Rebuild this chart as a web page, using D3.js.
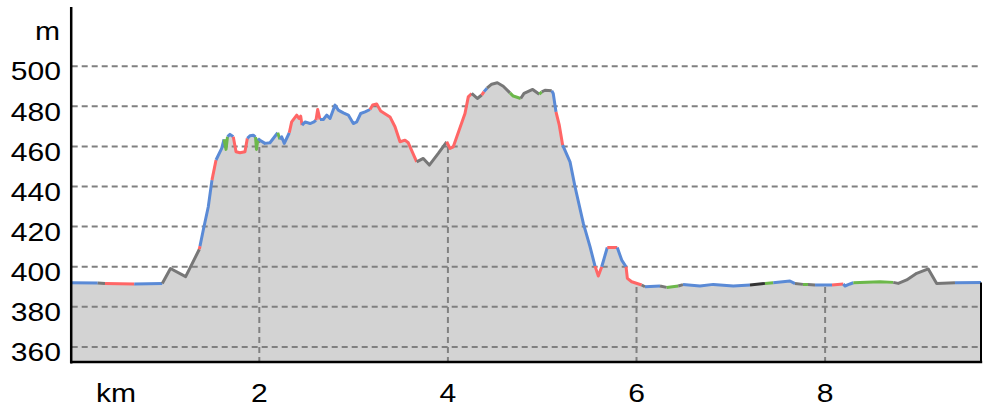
<!DOCTYPE html>
<html><head><meta charset="utf-8">
<script src="https://cdn.jsdelivr.net/npm/d3@7"></script>
<style>html,body{margin:0;padding:0;background:#fff;} svg{display:block;}</style>
</head><body>
<svg id="chart" width="990" height="406"></svg>
<script>
// Distance along route (km)
const distKm = [0,0.286,0.364,0.674,0.971,1.058,1.219,1.364,1.371,1.406,1.459,1.498,1.541,1.601,1.626,1.647,1.663,1.689,1.724,1.753,1.795,1.848,1.873,1.901,1.936,1.960,1.970,1.986,2.007,2.060,2.113,2.195,2.219,2.237,2.265,2.318,2.343,2.397,2.421,2.439,2.453,2.485,2.538,2.580,2.601,2.619,2.644,2.679,2.715,2.750,2.803,2.838,2.891,2.944,2.997,3.033,3.075,3.121,3.174,3.202,3.245,3.287,3.386,3.439,3.492,3.545,3.580,3.669,3.739,3.803,3.898,3.987,4.022,4.057,4.181,4.216,4.252,4.312,4.358,4.383,4.414,4.464,4.524,4.587,4.658,4.693,4.772,4.807,4.899,4.969,4.995,5.029,5.101,5.117,5.146,5.181,5.217,5.295,5.348,5.436,5.507,5.560,5.595,5.631,5.690,5.796,5.843,5.889,5.903,5.949,6.055,6.090,6.249,6.320,6.443,6.493,6.673,6.814,7.026,7.203,7.362,7.450,7.627,7.681,7.765,7.818,7.893,8.073,8.193,8.211,8.264,8.299,8.582,8.723,8.776,8.865,8.971,9.094,9.183,9.377,9.653];
// Elevation (m)
const elevM = [392.0,391.9,391.6,391.4,391.6,399.1,395.1,408.7,410.3,418.3,429.9,443.2,453.2,459.0,463.5,458.5,464.9,466.0,464.8,457.3,456.8,457.3,464.0,465.3,465.6,464.6,458.5,463.9,463.1,461.5,461.8,466.8,463.5,464.8,461.5,466.8,472.2,475.6,473.9,475.1,470.6,472.2,471.4,472.2,473.1,478.4,473.4,473.4,475.6,473.9,480.6,478.1,476.7,475.6,471.4,472.2,476.4,477.2,478.4,480.6,481.1,477.7,474.7,469.8,462.3,463.1,461.8,452.3,454.0,450.7,456.5,462.3,459.0,459.8,476.4,484.7,486.4,483.9,485.6,487.3,489.0,491.0,491.7,490.0,486.7,485.1,483.9,486.4,488.4,486.0,487.2,488.0,487.7,486.4,477.2,470.6,460.6,452.3,439.9,421.6,410.0,400.3,395.4,400.0,409.6,409.6,403.3,400.0,394.2,392.5,390.9,390.0,390.4,389.7,390.4,391.1,390.4,391.2,390.4,390.9,391.7,392.0,392.9,391.6,391.2,391.1,390.9,390.9,391.4,390.4,391.4,392.0,392.5,392.2,391.7,393.4,396.7,398.9,391.7,392.0,392.2];
// Surface class of the segment starting at each point
const segType = ["b","k","r","b","k","k","k","r","b","b","b","r","b","b","g","g","b","b","r","r","r","r","b","b","b","g","g","b","b","b","b","g","b","b","b","r","r","r","r","r","b","b","b","b","r","r","b","b","b","b","b","b","b","b","b","b","b","b","r","r","r","r","r","r","r","r","r","k","k","k","k","r","r","r","r","r","k","k","r","b","k","k","k","k","g","g","k","k","k","g","k","k","b","b","r","r","b","b","b","b","b","r","r","b","r","b","b","r","r","r","k","b","k","g","k","b","b","b","b","d","g","b","b","k","g","k","b","r","b","b","b","g","g","k","k","k","k","k","k","b"];
const segColors = {b:"#5a8ad6", r:"#ff6666", g:"#6cb84a", k:"#777777", d:"#333333"};
const yTicks = [360,380,400,420,440,460,480,500];
const yUnitTick = 520, yUnitLabel = "m";
const xTicks = [2,4,6,8];
const xUnitLabel = "km";

const svg = d3.select("#chart");
const x = d3.scaleLinear().domain([0, 9.653]).range([70.7, 981]);
const y = d3.scaleLinear().domain([352.5, 529.5]).range([362, 7]);
const yBase = y.range()[0];
const pts = distKm.map((d,i)=>({d, e: elevM[i]}));

const area = d3.area().x(p=>x(p.d)).y0(yBase).y1(p=>y(p.e));
svg.append("defs").append("clipPath").attr("id","areaClip")
  .append("path").attr("d", area(pts));
svg.append("path").attr("d", area(pts)).attr("fill","#d3d3d3");

const fontFam = "'Liberation Sans', Arial, sans-serif";
const sx = 1.18;
// horizontal gridlines
svg.append("g").selectAll("line").data(yTicks).join("line")
  .attr("x1", x(0)+1).attr("x2", x(9.653)).attr("y1", d=>y(d)).attr("y2", d=>y(d))
  .attr("stroke","#808080").attr("stroke-width",2).attr("stroke-dasharray","6,4");
// vertical gridlines (only inside the profile area)
svg.append("g").attr("clip-path","url(#areaClip)").selectAll("line").data(xTicks).join("line")
  .attr("x1", d=>x(d)).attr("x2", d=>x(d)).attr("y1", y(529.5)).attr("y2", yBase)
  .attr("stroke","#808080").attr("stroke-width",2).attr("stroke-dasharray","6,4");

// profile line, grouped by segment class
const line = d3.line().x(p=>x(p.d)).y(p=>y(p.e));
let runs = [];
for (let i=0;i<pts.length-1;i++){
  const t = segType[i];
  if (runs.length && runs[runs.length-1].t===t) runs[runs.length-1].p.push(pts[i+1]);
  else runs.push({t, p:[pts[i], pts[i+1]]});
}
svg.append("g").selectAll("path").data(runs).join("path")
  .attr("d", r=>line(r.p)).attr("fill","none")
  .attr("stroke", r=>segColors[r.t]).attr("stroke-width",3)
  .attr("stroke-linejoin","round").attr("stroke-linecap","butt");

// axes lines
svg.append("line").attr("x1", x(0)+0.5).attr("x2", x(0)+0.5).attr("y1", y(529.5)).attr("y2", yBase+1.5)
  .attr("stroke","#000").attr("stroke-width",2.5);
svg.append("line").attr("x1", x(0)).attr("x2", x(9.653)+1.2).attr("y1", yBase).attr("y2", yBase)
  .attr("stroke","#000").attr("stroke-width",2.5);
svg.append("line").attr("x1", x(9.653)).attr("x2", x(9.653))
  .attr("y1", y(elevM[elevM.length-1])).attr("y2", yBase)
  .attr("stroke","#000").attr("stroke-width",2);

// y labels
const yl = svg.append("g").attr("font-family", fontFam).attr("font-size", 25.5).attr("fill","#000");
yl.selectAll("text.t").data(yTicks).join("text").attr("class","t")
  .attr("text-anchor","end")
  .attr("transform", d=>`translate(61,${y(d)+14.3}) scale(${sx},1)`).text(d=>d);
yl.append("text").attr("text-anchor","end")
  .attr("transform", `translate(60,${y(yUnitTick)+14.3}) scale(${sx},1)`).text(yUnitLabel);

// x labels
const xl = svg.append("g").attr("font-family", fontFam).attr("font-size", 25.5).attr("fill","#000");
xl.selectAll("text").data(xTicks).join("text").attr("text-anchor","middle")
  .attr("transform", d=>`translate(${x(d)},401.7) scale(${sx},1)`).text(d=>d);
xl.append("text").attr("text-anchor","middle")
  .attr("transform", `translate(${x(0)+45.3},401.7) scale(${sx},1)`).text(xUnitLabel);
</script>
</body></html>
